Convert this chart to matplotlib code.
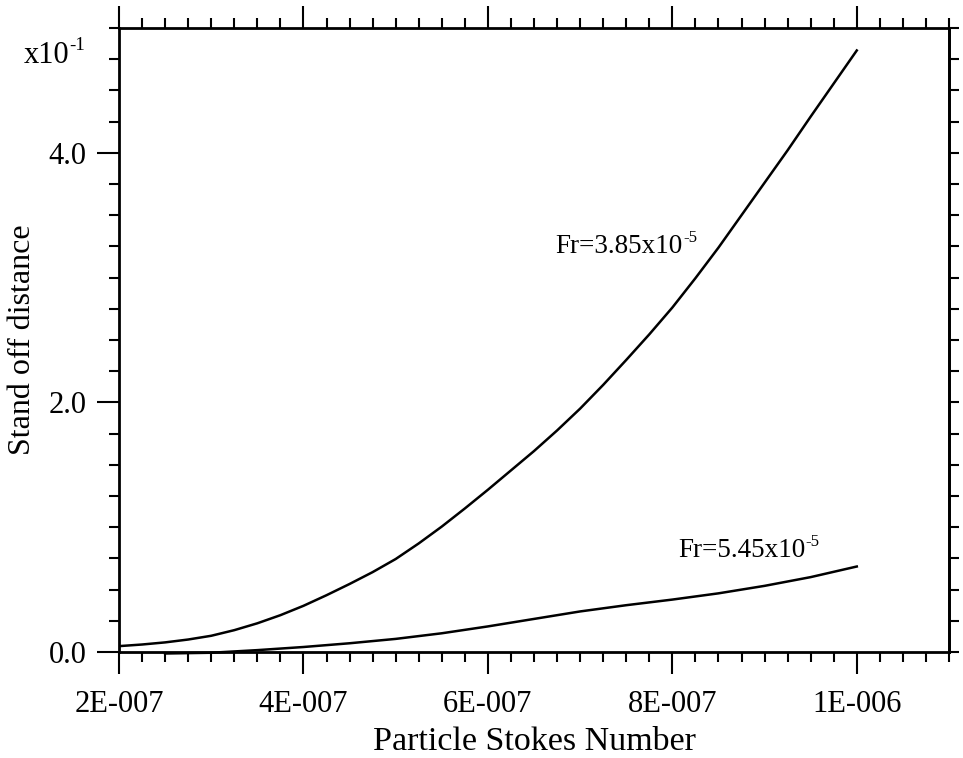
# Stand off distance vs particle Stokes number, two Froude numbers
import numpy as np
import matplotlib
matplotlib.use("Agg")
import matplotlib.pyplot as plt
from matplotlib.ticker import FixedLocator, MultipleLocator, FuncFormatter, NullLocator

plt.rcParams['font.family'] = ['Liberation Serif', 'DejaVu Serif']

# Data (stand off distance in units of 1e-1)
stokes_a = [0.200e-6, 0.225e-6, 0.250e-6, 0.275e-6, 0.300e-6, 0.325e-6, 0.350e-6, 0.375e-6,
            0.400e-6, 0.425e-6, 0.450e-6, 0.475e-6, 0.500e-6, 0.525e-6, 0.550e-6, 0.575e-6,
            0.600e-6, 0.625e-6, 0.650e-6, 0.675e-6, 0.700e-6, 0.725e-6, 0.750e-6, 0.775e-6,
            0.800e-6, 0.825e-6, 0.850e-6, 0.875e-6, 0.900e-6, 0.925e-6, 0.950e-6, 0.975e-6,
            1.000e-6]
standoff_a = [0.047, 0.060, 0.077, 0.100, 0.130, 0.175, 0.230, 0.295,
              0.370, 0.455, 0.545, 0.640, 0.745, 0.870, 1.005, 1.150,
              1.300, 1.455, 1.610, 1.775, 1.950, 2.140, 2.340, 2.545,
              2.760, 2.995, 3.240, 3.500, 3.760, 4.020, 4.290, 4.555,
              4.820]

stokes_b = [0.25e-6, 0.30e-6, 0.35e-6, 0.40e-6, 0.45e-6, 0.50e-6, 0.55e-6, 0.60e-6,
            0.65e-6, 0.70e-6, 0.75e-6, 0.80e-6, 0.85e-6, 0.90e-6, 0.95e-6, 1.00e-6]
standoff_b = [-0.012, -0.006, 0.015, 0.04, 0.07, 0.105, 0.15, 0.205,
              0.265, 0.325, 0.375, 0.42, 0.47, 0.53, 0.60, 0.685]

label_a = ("Fr=3.85x10", "-5")
label_b = ("Fr=5.45x10", "-5")
y_unit = ("x10", "-1")
x_major = [2e-7, 4e-7, 6e-7, 8e-7, 1e-6]
y_major = [0.0, 2.0, 4.0]


def sci_fmt(v, pos=None):
    m, e = f"{v:.0E}".split("E")
    e = int(e)
    return f"{m}E{'-' if e < 0 else '+'}{abs(e):03d}"


def sup_text(fig, x, y, parts, size, ha):
    # base text plus a small raised exponent with a plain hyphen
    base, sup = parts
    t = fig.text(x, y, base, fontsize=size, ha='left', va='baseline')
    s = fig.text(0, 0, sup, fontsize=size * 0.62, ha='left', va='baseline')
    fig.canvas.draw()
    r = fig.canvas.get_renderer()
    bb = t.get_window_extent(r)
    sb = s.get_window_extent(r)
    W, H = fig.bbox.width, fig.bbox.height
    total = bb.width + sb.width
    if ha == 'right':
        x0 = x - total / W
    else:
        x0 = x
    t.set_x(x0)
    s.set_position((x0 + bb.width / W, y + size * 0.42 * 100 / 72 / H))
    return t, s


fig = plt.figure(figsize=(9.63, 7.58), dpi=100)
ax = fig.add_axes([119 / 963, 1 - 652 / 758, (949 - 119) / 963, (652 - 28) / 758])

ax.plot(stokes_a, standoff_a, color='black', lw=1.8)
ax.plot(stokes_b, standoff_b, color='black', lw=1.8, clip_on=False)

ax.set_xlim(2e-7, 1.1e-6)
ax.set_ylim(0, 5.0)

ax.xaxis.set_major_locator(FixedLocator(x_major))
ax.xaxis.set_major_formatter(FuncFormatter(sci_fmt))
ax.xaxis.set_minor_locator(MultipleLocator(0.025e-6))
ax.yaxis.set_major_locator(FixedLocator(y_major))
ax.yaxis.set_major_formatter(FuncFormatter(lambda v, p: f"{v:.1f}"))
ax.yaxis.set_minor_locator(MultipleLocator(0.25))

ax.tick_params(which='major', direction='out', length=15.5, width=1.5, labelsize=22,
               top=True, pad=8)
ax.tick_params(axis='x', which='major', pad=12)
ax.tick_params(which='minor', direction='out', length=7.5, width=1.5, top=True)
ax.tick_params(axis='y', which='both', right=False)

# right side: short ticks only
ax_r = ax.secondary_yaxis('right')
ax_r.yaxis.set_major_locator(FixedLocator(list(np.arange(0, 5.01, 0.25))))
ax_r.yaxis.set_minor_locator(NullLocator())
ax_r.tick_params(direction='out', length=7.5, width=1.5, labelright=False)
ax_r.spines['right'].set_linewidth(2)

for s in ax.spines.values():
    s.set_linewidth(2)

ax.set_xlabel("Particle Stokes Number", fontsize=24.5, labelpad=5)
ax.set_ylabel("Stand off distance", fontsize=23, labelpad=8)

sup_text(fig, 85 / 963, 1 - 63 / 758, y_unit, 22, 'right')
sup_text(fig, 697 / 963, 1 - 253 / 758, label_a, 19.5, 'right')
sup_text(fig, 678 / 963, 1 - 557 / 758, label_b, 19.5, 'left')

fig.savefig("out.png", dpi=100)
